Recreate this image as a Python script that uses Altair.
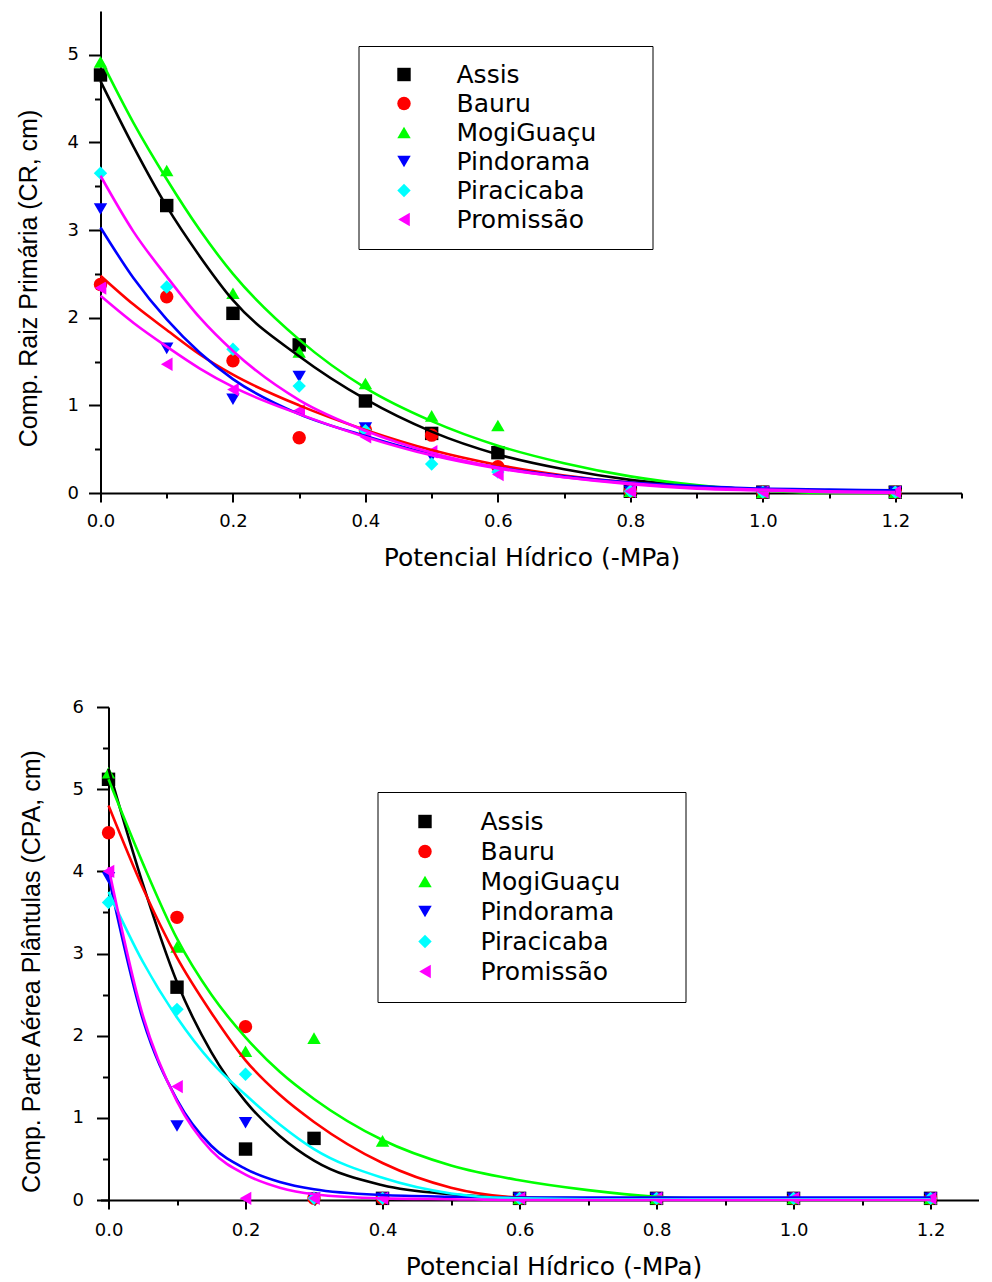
import altair as alt
import pandas as pd

SITES = ["Assis", "Bauru", "MogiGuaçu", "Pindorama", "Piracicaba", "Promissão"]
COLORS = ["#000000", "#FF0000", "#00FF00", "#0000FF", "#00FFFF", "#FF00FF"]
SHAPES = ["square", "circle", "triangle-up", "triangle-down", "diamond", "triangle-left"]

# ---------------- Panel A: Comp. Raiz Primária ----------------
A_PTS_X = [0.0, 0.1, 0.2, 0.3, 0.4, 0.5, 0.6, 0.8, 1.0, 1.2]
A_ASSIS = [4.77, 3.28, 2.05, 1.69, 1.05, 0.68, 0.46, 0.02, 0.01, 0.01]
A_BAURU = [2.38, 2.24, 1.51, 0.63, 0.72, 0.66, 0.30, 0.02, 0.01, 0.01]
A_MOGI = [4.92, 3.68, 2.28, 1.61, 1.25, 0.88, 0.77, 0.02, 0.01, 0.01]
A_PIND = [3.24, 1.65, 1.07, 1.33, 0.74, 0.42, 0.25, 0.02, 0.01, 0.01]
A_PIRA = [3.65, 2.35, 1.64, 1.22, 0.71, 0.33, 0.24, 0.02, 0.01, 0.01]
A_PROM = [2.34, 1.47, 1.18, 0.94, 0.64, 0.47, 0.21, 0.02, 0.01, 0.01]

A_FIT_X = [0.0, 0.05, 0.1, 0.15, 0.2, 0.3, 0.4, 0.5, 0.6, 0.7, 0.8, 0.9, 1.0, 1.1, 1.2]
A_FIT_ASSIS = [4.70, 3.95, 3.27, 2.70, 2.20, 1.56, 1.07, 0.70, 0.44, 0.27, 0.15, 0.08, 0.04, 0.02, 0.01]
A_FIT_BAURU = [2.48, 2.15, 1.86, 1.58, 1.35, 1.00, 0.72, 0.49, 0.32, 0.20, 0.12, 0.07, 0.04, 0.02, 0.01]
A_FIT_MOGI = [4.95, 4.22, 3.58, 3.00, 2.50, 1.75, 1.20, 0.82, 0.54, 0.34, 0.19, 0.09, 0.03, 0.00, 0.00]
A_FIT_PIND = [3.03, 2.45, 1.98, 1.60, 1.30, 0.90, 0.65, 0.44, 0.29, 0.19, 0.12, 0.08, 0.05, 0.04, 0.03]
A_FIT_PIRA = [3.62, 2.98, 2.47, 2.00, 1.62, 1.06, 0.71, 0.46, 0.29, 0.18, 0.10, 0.05, 0.03, 0.01, 0.00]
A_FIT_PROM = [2.25, 1.94, 1.67, 1.42, 1.21, 0.90, 0.64, 0.43, 0.28, 0.18, 0.11, 0.06, 0.04, 0.02, 0.01]
A_FIT_COLORS = ["#000000", "#FF0000", "#00FF00", "#0000FF", "#FF00FF", "#FF00FF"]

# ---------------- Panel B: Comp. Parte Aérea Plântulas ----------------
B_PTS_X = [0.0, 0.1, 0.2, 0.3, 0.4, 0.6, 0.8, 1.0, 1.2]
B_ASSIS = [5.12, 2.59, 0.62, 0.75, 0.02, 0.02, 0.02, 0.02, 0.02]
B_BAURU = [4.47, 3.44, 2.11, 0.02, 0.02, 0.02, 0.02, 0.02, 0.02]
B_MOGI = [5.20, 3.08, 1.81, 1.97, 0.72, 0.02, 0.02, 0.02, 0.02]
B_PIND = [3.92, 0.90, 0.94, 0.02, 0.02, 0.02, 0.02, 0.02, 0.02]
B_PIRA = [3.62, 2.32, 1.53, 0.02, 0.02, 0.02, 0.02, 0.02, 0.02]
B_PROM = [4.00, 1.38, 0.02, 0.02, 0.02, 0.02, 0.02, 0.02, 0.02]

B_FIT_X = [0.0, 0.05, 0.1, 0.15, 0.2, 0.25, 0.3, 0.4, 0.5, 0.6, 0.7, 0.8, 0.9, 1.0, 1.1, 1.2]
B_FIT_ASSIS = [5.25, 3.85, 2.65, 1.80, 1.20, 0.78, 0.48, 0.18, 0.07, 0.03, 0.02, 0.01, 0.01, 0.01, 0.01, 0.01]
B_FIT_BAURU = [4.80, 3.80, 2.95, 2.28, 1.70, 1.28, 0.95, 0.45, 0.15, 0.03, 0.01, 0.01, 0.01, 0.01, 0.01, 0.01]
B_FIT_MOGI = [5.12, 4.10, 3.18, 2.50, 1.98, 1.56, 1.23, 0.73, 0.42, 0.24, 0.12, 0.04, 0.01, 0.00, 0.00, 0.00]
B_FIT_PIND = [3.94, 2.20, 1.22, 0.66, 0.38, 0.22, 0.13, 0.06, 0.04, 0.03, 0.03, 0.03, 0.03, 0.03, 0.03, 0.03]
B_FIT_PIRA = [3.75, 2.90, 2.22, 1.68, 1.28, 0.92, 0.62, 0.27, 0.08, 0.02, 0.01, 0.01, 0.01, 0.01, 0.01, 0.01]
B_FIT_PROM = [4.05, 2.25, 1.20, 0.60, 0.31, 0.15, 0.07, 0.02, 0.01, 0.00, 0.00, 0.00, 0.00, 0.00, 0.00, 0.00]
B_FIT_COLORS = ["#000000", "#FF0000", "#00FF00", "#0000FF", "#00FFFF", "#FF00FF"]

X_TITLE = "Potencial Hídrico (-MPa)"
A_Y_TITLE = "Comp. Raiz Primária (CR, cm)"
B_Y_TITLE = "Comp. Parte Aérea Plântulas (CPA, cm)"

A_XTICKS = [0.0, 0.1, 0.2, 0.3, 0.4, 0.5, 0.6, 0.7, 0.8, 0.9, 1.0, 1.1, 1.2, 1.3]
B_XTICKS = [0.0, 0.1, 0.2, 0.3, 0.4, 0.5, 0.6, 0.7, 0.8, 0.9, 1.0, 1.1, 1.2]
A_YTICKS = [0, 0.5, 1, 1.5, 2, 2.5, 3, 3.5, 4, 4.5, 5]
B_YTICKS = [0, 0.5, 1, 1.5, 2, 2.5, 3, 3.5, 4, 4.5, 5, 5.5, 6]

FONT = "DejaVu Sans"
YFONT = "Liberation Sans"


def points_frame(xs, series):
    rows = []
    for site, vals in zip(SITES, series):
        for x, y in zip(xs, vals):
            rows.append({"x": x, "y": y, "site": site})
    return pd.DataFrame(rows)


def fit_frame(xs, series, colors):
    rows = []
    for site, vals, col in zip(SITES, series, colors):
        for x, y in zip(xs, vals):
            rows.append({"x": x, "y": y, "site": site, "lcolor": col})
    return pd.DataFrame(rows)


def panel(pts, fit, xmin, xmax, xticks, ymax, yticks, width, height, ytitle,
          y_offset, y_label_pad, y_title_pad, y_title_y, x_label_pad, x_title_pad, x_title_x,
          legend_x, legend_y, legend_pad, row_pad, sym_off, lab_off, fill):
    xaxis = alt.Axis(
        values=xticks, format=".1f",
        labelExpr="round(datum.value*10) % 2 == 0 ? datum.label : ''",
        tickSize={"condition": {"test": "round(datum.value*10) % 2 == 0", "value": 9}, "value": 5},
        tickWidth=2, tickColor="black", domainColor="black", domainWidth=2,
        grid=False, labelFont=FONT, labelFontSize=18, labelColor="black",
        labelPadding=x_label_pad, labelOverlap=False, labelFlush=False,
        title=X_TITLE, titleFont=FONT, titleFontSize=25, titleFontWeight="normal",
        titleColor="black", titlePadding=x_title_pad, titleX=x_title_x,
    )
    yaxis = alt.Axis(
        values=yticks, format=".0f", offset=y_offset,
        labelExpr="round(datum.value*2) % 2 == 0 ? datum.label : ''",
        tickSize={"condition": {"test": "round(datum.value*2) % 2 == 0", "value": 12}, "value": 6},
        tickWidth=2, tickColor="black", domainColor="black", domainWidth=2,
        grid=False, labelFont=FONT, labelFontSize=18, labelColor="black",
        labelPadding=y_label_pad, labelOverlap=False, labelFlush=False,
        title=ytitle, titleFont=YFONT, titleFontSize=25, titleFontWeight="normal",
        titleColor="black", titlePadding=y_title_pad, titleY=y_title_y,
    )
    xs = alt.Scale(domain=[xmin, xmax], nice=False, zero=False)
    ys = alt.Scale(domain=[0, ymax], nice=False, zero=False)
    legend = alt.Legend(
        orient="none", legendX=legend_x, legendY=legend_y, title=None,
        strokeColor="black", fillColor="white", padding=legend_pad,
        labelFont=FONT, labelFontSize=25, labelColor="black",
        labelExpr="datum.label + '" + " " * fill + "\u200b'",
        symbolSize=180, symbolStrokeWidth=0, symbolOffset=sym_off,
        labelOffset=lab_off, rowPadding=row_pad, labelLimit=500,
    )
    points = alt.Chart(pts).mark_point(filled=True, size=180, opacity=1).encode(
        x=alt.X("x:Q", scale=xs, axis=xaxis),
        y=alt.Y("y:Q", scale=ys, axis=yaxis),
        color=alt.Color("site:N", scale=alt.Scale(domain=SITES, range=COLORS), legend=legend),
        shape=alt.Shape("site:N", scale=alt.Scale(domain=SITES, range=SHAPES), legend=legend),
    )
    lines = alt.Chart(fit).mark_line(strokeWidth=2.6, interpolate="monotone").encode(
        x=alt.X("x:Q", scale=xs),
        y=alt.Y("y:Q", scale=ys),
        stroke=alt.Stroke("lcolor:N", scale=None),
        detail="site:N",
    )
    return alt.layer(points, lines).properties(width=width, height=height)


top = panel(
    points_frame(A_PTS_X, [A_ASSIS, A_BAURU, A_MOGI, A_PIND, A_PIRA, A_PROM]),
    fit_frame(A_FIT_X, [A_FIT_ASSIS, A_FIT_BAURU, A_FIT_MOGI, A_FIT_PIND, A_FIT_PIRA, A_FIT_PROM], A_FIT_COLORS),
    0.0, 1.3, A_XTICKS, 5.5, A_YTICKS, 861, 482, A_Y_TITLE,
    y_offset=0, y_label_pad=10, y_title_pad=26, y_title_y=267, x_label_pad=10, x_title_pad=15,
    x_title_x=431,
    legend_x=258, legend_y=35, legend_pad=16, row_pad=3, sym_off=17, lab_off=40, fill=5,
)

bottom = panel(
    points_frame(B_PTS_X, [B_ASSIS, B_BAURU, B_MOGI, B_PIND, B_PIRA, B_PROM]),
    fit_frame(B_FIT_X, [B_FIT_ASSIS, B_FIT_BAURU, B_FIT_MOGI, B_FIT_PIND, B_FIT_PIRA, B_FIT_PROM], B_FIT_COLORS),
    -0.0117, 1.27, B_XTICKS, 6, B_YTICKS, 878, 493, B_Y_TITLE,
    y_offset=-8, y_label_pad=13, y_title_pad=28, y_title_y=264, x_label_pad=12, x_title_pad=15,
    x_title_x=453,
    legend_x=277, legend_y=85, legend_pad=17, row_pad=4, sym_off=18, lab_off=43, fill=6,
)

chart = alt.vconcat(top, bottom, spacing=128).resolve_scale(
    color="independent", shape="independent"
).configure_view(strokeWidth=0).properties(
    padding={"left": 15.5, "top": 11, "right": 2, "bottom": 2},
    background="white",
)

chart.save("out.html", embed_options={"renderer": "svg", "actions": False})
